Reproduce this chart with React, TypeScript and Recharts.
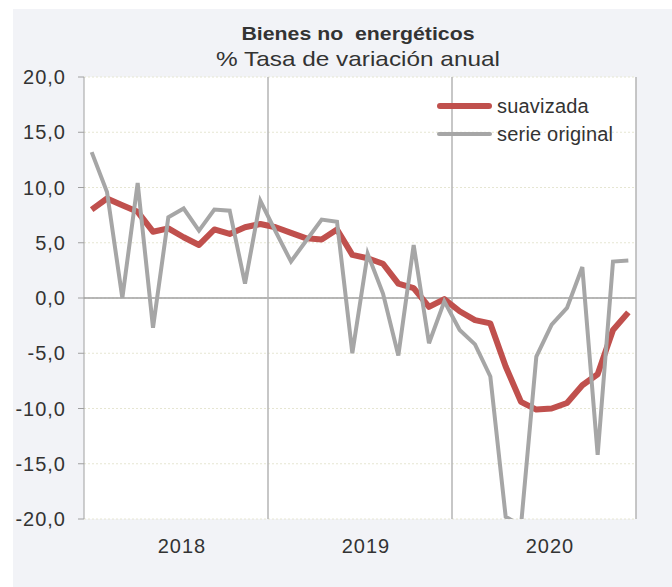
import {
    CartesianGrid,
    Legend,
    Line,
    LineChart,
    ReferenceLine,
    XAxis,
    YAxis,
} from 'recharts'

const months = [
    'ene-18', 'feb-18', 'mar-18', 'abr-18', 'may-18', 'jun-18', 'jul-18', 'ago-18', 'sep-18', 'oct-18', 'nov-18', 'dic-18',
    'ene-19', 'feb-19', 'mar-19', 'abr-19', 'may-19', 'jun-19', 'jul-19', 'ago-19', 'sep-19', 'oct-19', 'nov-19', 'dic-19',
    'ene-20', 'feb-20', 'mar-20', 'abr-20', 'may-20', 'jun-20', 'jul-20', 'ago-20', 'sep-20', 'oct-20', 'nov-20', 'dic-20',
]

const suavizada = [
    8.0, 9.0, 8.4, 7.8, 6.0, 6.3, 5.5, 4.8, 6.2, 5.8, 6.4, 6.7,
    6.4, 5.9, 5.4, 5.3, 6.2, 3.9, 3.6, 3.1, 1.3, 0.9, -0.8, -0.1,
    -1.2, -2.0, -2.3, -6.2, -9.4, -10.1, -10.0, -9.5, -7.9, -6.9, -2.9, -1.3,
]

const original = [
    13.2, 9.6, 0.0, 10.4, -2.7, 7.3, 8.1, 6.1, 8.0, 7.9, 1.3, 8.8,
    6.0, 3.3, 5.2, 7.1, 6.9, -5.0, 4.0, 0.4, -5.2, 4.8, -4.1, -0.3,
    -2.9, -4.2, -7.1, -19.8, -20.6, -5.3, -2.4, -0.9, 2.8, -14.2, 3.3, 3.4,
]

const seriesNames = ['suavizada', 'serie original']
const years = ['2018', '2019', '2020']
const yTicks = [-20, -15, -10, -5, 0, 5, 10, 15, 20]

const RED = '#c0504d'
const GREY = '#a6a6a6'
const FONT = '"Liberation Sans", Arial, sans-serif'

// month i sits in the middle of its slot, one slot per month
const data = months.map((m, i) => ({
    m,
    x: i + 0.5,
    suavizada: suavizada[i],
    original: original[i],
}))

const yearTicks = years.map((_, i) => i * 12 + 6)
const yearEdges = years.map((_, i) => (i + 1) * 12)

const renderLegend = (props: any) => {
    const items = [...(props.payload || [])].sort(
        (a: any, b: any) => seriesNames.indexOf(a.value) - seriesNames.indexOf(b.value)
    )
    return (
        <div style={{ fontFamily: FONT, fontSize: 20, color: '#333', letterSpacing: 0.2 }}>
            {items.map((e: any) => (
                <div
                    key={e.value}
                    style={{ display: 'flex', alignItems: 'center', height: 28 }}
                >
                    <span
                        style={{
                            width: 55,
                            height: e.color === RED ? 6 : 4,
                            background: e.color,
                            borderRadius: 3,
                        }}
                    />
                    <span style={{ marginLeft: 5 }}>{e.value}</span>
                </div>
            ))}
        </div>
    )
}

const App = () => {
    return (
        <div
            style={{
                position: 'absolute',
                left: 0,
                top: 0,
                width: 672,
                height: 587,
                fontFamily: FONT,
            }}
        >
            <div
                style={{
                    position: 'absolute',
                    left: 13,
                    top: 9,
                    right: 0,
                    bottom: 0,
                    background: '#f2f3f7',
                }}
            />
            <div
                style={{
                    position: 'absolute',
                    left: 82,
                    width: 552,
                    top: 22,
                    textAlign: 'center',
                    color: '#333',
                }}
            >
                <div
                    style={{
                        fontWeight: 'bold',
                        fontSize: 19,
                        lineHeight: '24px',
                        transform: 'scaleX(1.12)',
                    }}
                >
                    Bienes no&nbsp; energéticos
                </div>
                <div
                    style={{
                        fontSize: 21,
                        lineHeight: '25px',
                        transform: 'scaleX(1.16)',
                    }}
                >
                    % Tasa de variación anual
                </div>
            </div>
            <LineChart
                width={672}
                height={587}
                data={data}
                margin={{ top: 77, right: 36, left: 14, bottom: 0 }}
                style={{ position: 'absolute', left: 0, top: 0 }}
            >
                <CartesianGrid
                    vertical={false}
                    fill="#ffffff"
                    stroke="#e6e6d2"
                    strokeDasharray="2 2"
                />
                <XAxis
                    dataKey="x"
                    type="number"
                    domain={[0, 36]}
                    ticks={yearTicks}
                    tickFormatter={(v: number) => years[Math.floor(v / 12)]}
                    axisLine={false}
                    tickLine={false}
                    tickSize={0}
                    tickMargin={20}
                    height={68}
                    tick={{ fontSize: 20, fill: '#333', fontFamily: FONT, dx: 6, letterSpacing: 1 }}
                />
                <YAxis
                    domain={[-20, 20]}
                    ticks={yTicks}
                    allowDataOverflow
                    width={70}
                    tickSize={6}
                    tickMargin={12}
                    axisLine={{ stroke: '#a0a0a0' }}
                    tickLine={{ stroke: '#a0a0a0' }}
                    tickFormatter={(v: number) => v.toFixed(1).replace('.', ',')}
                    tick={{ fontSize: 20, fill: '#333', fontFamily: FONT, letterSpacing: 1 }}
                />
                <ReferenceLine y={0} stroke="#a0a0a0" strokeWidth={1.5} />
                {yearEdges.map((x) => (
                    <ReferenceLine key={x} x={x} stroke="#b4b4b4" strokeWidth={1.5} />
                ))}
                <Legend
                    content={renderLegend}
                    layout="horizontal"
                    verticalAlign="middle"
                    align="center"
                    wrapperStyle={{ top: 92, left: 437, width: 200 }}
                />
                <Line
                    name="suavizada"
                    dataKey="suavizada"
                    stroke={RED}
                    strokeWidth={6}
                    dot={false}
                    strokeLinejoin="round"
                    isAnimationActive={false}
                />
                <Line
                    name="serie original"
                    dataKey="original"
                    stroke={GREY}
                    strokeWidth={4}
                    dot={false}
                    isAnimationActive={false}
                />
            </LineChart>
        </div>
    )
}

export default App
